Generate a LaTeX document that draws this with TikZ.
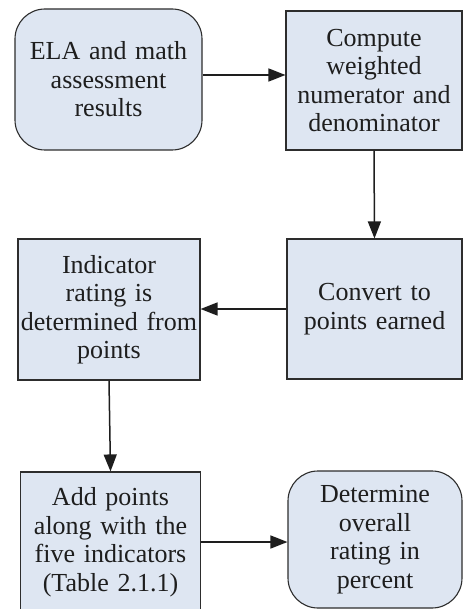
\documentclass[tikz,border=0pt]{standalone}
\usepackage{fontspec}
\setmainfont{Liberation Serif}
\usepackage{xcolor}
\usetikzlibrary{arrows.meta}

\definecolor{boxfill}{RGB}{222,230,242}
\definecolor{boxline}{RGB}{45,45,45}
\definecolor{inkgray}{RGB}{30,30,30}

\tikzset{
    stepbox/.style={draw=boxline, line width=1.1pt, fill=boxfill, text=inkgray,
        inner sep=0pt, align=center,
        font=\fontsize{26}{28.5}\selectfont},
    roundbox/.style={stepbox, rounded corners=30pt},
    flow/.style={draw=inkgray, line width=1.5pt, -{Triangle[length=17pt,width=13pt]}}
}

\begin{document}
\begin{tikzpicture}[x=1pt, y=-1pt]
    \clip (0,0) rectangle (466,609);
    \fill[white] (0,0) rectangle (466,609);

    % Define nodes
    \node[roundbox, minimum width=187pt, minimum height=141pt, text width=180pt] (A) at (108.5,79.5) {ELA and math\\assessment\\results};
    \node[stepbox, minimum width=176pt, minimum height=139pt, text width=174pt] (B) at (374,80.5) {Compute\\weighted\\numerator and\\denominator};

    \node[stepbox, minimum width=175pt, minimum height=140pt, text width=173pt] (C) at (374.5,309) {Convert to\\points earned};
    \node[stepbox, minimum width=182pt, minimum height=141pt, text width=180pt] (D) at (109,309.5) {Indicator\\rating is\\determined from\\points};

    \node[stepbox, minimum width=180pt, minimum height=140pt, text width=178pt] (E) at (110.5,542) {Add points\\along with the\\five indicators\\(Table 2.1.1)};
    \node[roundbox, minimum width=174pt, minimum height=137pt, text width=170pt] (F) at (375,539.5) {Determine\\overall\\rating in\\percent};

    % Draw arrows
    \draw[flow] ([yshift=4.5pt]A.east) -- ([yshift=4.5pt]A.east -| B.west);
    \draw[flow] (B.south) -- (C.north);
    \draw[flow] (C.west) -- (C.west -| D.east);
    \draw[flow] (D.south) -- (E.north);
    \draw[flow] (E.east) -- (E.east -| F.west);
\end{tikzpicture}
\end{document}
